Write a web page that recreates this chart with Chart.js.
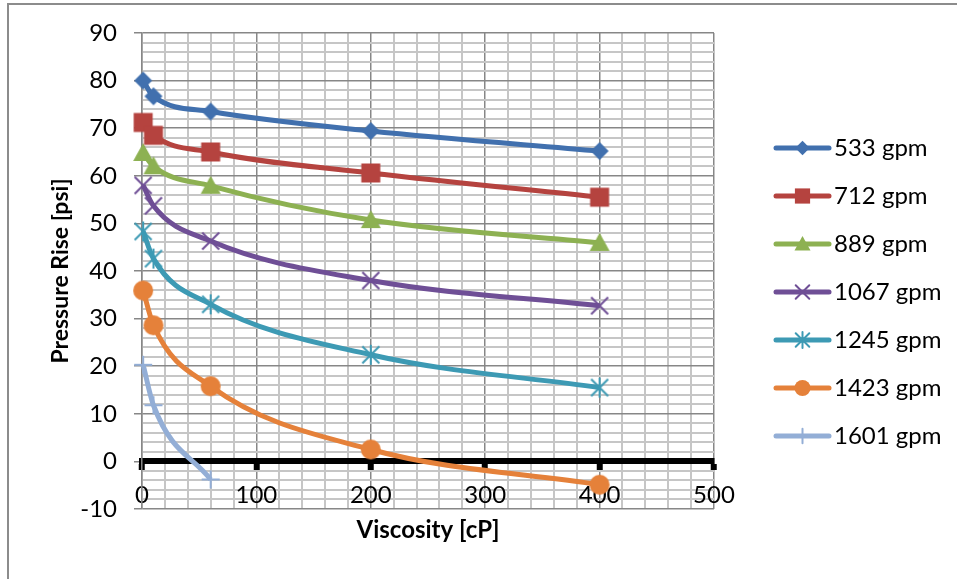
<!DOCTYPE html>
<html>
<head>
<meta charset="utf-8">
<script src="https://cdn.jsdelivr.net/npm/chart.js@4.4.1/dist/chart.umd.min.js"></script>
<style>
  html, body { margin: 0; padding: 0; background: #fff; }
  #wrap { position: relative; width: 957px; height: 579px; overflow: hidden; }
  #frame { position: absolute; left: 7px; top: 3px; width: 1000px; height: 700px; border-top: 2px solid #8c8c8c; border-left: 2px solid #8c8c8c; }
  canvas { position: absolute; left: 0; top: 0; }
</style>
</head>
<body>
<div id="wrap">
  <div id="frame"></div>
  <canvas id="chart" width="957" height="579"></canvas>
</div>
<script>
// viscosity in cP, pressure rise in psi
const viscosity = [1, 10, 60, 200, 400];
const rise533 = [80, 76.7, 73.5, 69.4, 65.2];
const rise712 = [71.2, 68.5, 65, 60.6, 55.5];
const rise889 = [64.8, 62, 57.9, 50.7, 45.9];
const rise1067 = [58, 53.7, 46.3, 38, 32.7];
const rise1245 = [48.3, 42.6, 33, 22.4, 15.5];
const rise1423 = [35.9, 28.6, 15.8, 2.5, -4.9];
const rise1601 = [20.3, 11.8, -3.8];

const seriesNames = ['533 gpm', '712 gpm', '889 gpm', '1067 gpm', '1245 gpm', '1423 gpm', '1601 gpm'];
const seriesValues = [rise533, rise712, rise889, rise1067, rise1245, rise1423, rise1601];
const seriesColors = ['#4170ae', '#b5433f', '#8db152', '#6f4f96', '#3d9ab4', '#e5813a', '#93aed6'];
const markers = ['diamond', 'square', 'triangle', 'x', 'star', 'circle', 'plus'];

Chart.defaults.font.family = 'Lato, "Open Sans", sans-serif';
Chart.defaults.color = '#000';

function drawMarker(ctx, style, cx, cy, color, s) {
    ctx.fillStyle = color;
    ctx.strokeStyle = color;
    ctx.lineWidth = 2;
    ctx.beginPath();
    if (style === 'diamond') {
        ctx.moveTo(cx, cy - 9 * s);
        ctx.lineTo(cx + 9 * s, cy);
        ctx.lineTo(cx, cy + 9 * s);
        ctx.lineTo(cx - 9 * s, cy);
        ctx.closePath();
        ctx.fill();
    } else if (style === 'square') {
        ctx.rect(cx - 9.5 * s, cy - 9.5 * s, 19 * s, 19 * s);
        ctx.fill();
    } else if (style === 'triangle') {
        ctx.moveTo(cx, cy - 10 * s);
        ctx.lineTo(cx + 10 * s, cy + 8 * s);
        ctx.lineTo(cx - 10 * s, cy + 8 * s);
        ctx.closePath();
        ctx.fill();
    } else if (style === 'circle') {
        ctx.arc(cx, cy, 10 * s, 0, Math.PI * 2);
        ctx.fill();
    } else {
        const d = 8.5 * s;
        if (style === 'x' || style === 'star') {
            ctx.moveTo(cx - d, cy - d);
            ctx.lineTo(cx + d, cy + d);
            ctx.moveTo(cx + d, cy - d);
            ctx.lineTo(cx - d, cy + d);
        }
        if (style === 'star') {
            ctx.moveTo(cx, cy - 10 * s);
            ctx.lineTo(cx, cy + 10 * s);
        }
        if (style === 'plus') {
            ctx.moveTo(cx - 9 * s, cy);
            ctx.lineTo(cx + 9 * s, cy);
            ctx.moveTo(cx, cy - 9 * s);
            ctx.lineTo(cx, cy + 9 * s);
        }
        ctx.stroke();
    }
}

// marker images for the points
const pointImages = markers.map((m, i) => {
    const c = document.createElement('canvas');
    c.width = 30;
    c.height = 30;
    drawMarker(c.getContext('2d'), m, 15, 15, seriesColors[i], 1);
    return c;
});

// legend icons: line with marker, drawn in the right part of the image
const legendIcons = markers.map((m, i) => {
    const c = document.createElement('canvas');
    c.width = 104;
    c.height = 24;
    const ctx = c.getContext('2d');
    ctx.strokeStyle = seriesColors[i];
    ctx.lineWidth = 5;
    ctx.lineCap = 'round';
    ctx.beginPath();
    ctx.moveTo(48, 12);
    ctx.lineTo(101, 12);
    ctx.stroke();
    drawMarker(ctx, m, 74.5, 12, seriesColors[i], 0.8);
    return c;
});

const isMajor = (c, step) => c.tick && Math.abs(c.tick.value % step) < 1e-6;

const datasets = seriesNames.map((name, i) => ({
    label: name,
    data: seriesValues[i].map((v, j) => ({ x: viscosity[j], y: v })),
    borderColor: seriesColors[i],
    backgroundColor: seriesColors[i],
    borderWidth: 5,
    cubicInterpolationMode: 'monotone',
    pointStyle: pointImages[i],
    pointRadius: 10,
    clip: false
}));

new Chart(document.getElementById('chart'), {
    type: 'line',
    data: { datasets: datasets },
    options: {
        responsive: false,
        animation: false,
        layout: { padding: { left: 8, top: 33, right: 10, bottom: 70 } },
        scales: {
            x: {
                type: 'linear',
                min: 0,
                max: 500,
                position: { y: 0 },
                ticks: {
                    stepSize: 20,
                    autoSkip: false,
                    maxRotation: 0,
                    padding: 13,
                    font: { size: 24 },
                    callback: v => v % 100 === 0 ? v : ''
                },
                grid: {
                    color: c => isMajor(c, 100) ? '#878787' : '#c6c6c6',
                    lineWidth: c => isMajor(c, 100) ? 1.5 : 2,
                    tickLength: 6,
                    tickWidth: 6,
                    tickColor: c => isMajor(c, 100) ? '#000' : 'rgba(0,0,0,0)'
                },
                border: { color: '#000', width: 6 },
                title: {
                    display: true,
                    text: 'Viscosity [cP]',
                    font: { size: 24, weight: 'bold' },
                    padding: 0
                },
                afterFit: scale => { scale.height = 83; }
            },
            y: {
                type: 'linear',
                min: -10,
                max: 90,
                ticks: {
                    stepSize: 2,
                    autoSkip: false,
                    padding: 17,
                    font: { size: 24 },
                    callback: v => Math.abs(v % 10) < 1e-6 ? v : ''
                },
                grid: {
                    color: c => isMajor(c, 10) ? '#878787' : '#c6c6c6',
                    lineWidth: c => isMajor(c, 10) ? 1.5 : 2,
                    tickLength: 8,
                    tickColor: c => isMajor(c, 10) ? '#878787' : 'rgba(0,0,0,0)'
                },
                border: { color: '#878787', width: 1.5 },
                title: {
                    display: true,
                    text: 'Pressure Rise [psi]',
                    font: { size: 23, weight: 'bold' },
                    padding: { top: 39, bottom: 0 }
                },
                afterFit: scale => { scale.width = 134; }
            }
        },
        plugins: {
            legend: {
                position: 'right',
                maxWidth: 233,
                title: { display: true, text: '', font: { size: 12, lineHeight: 1 }, padding: { top: 0, bottom: 30 } },
                labels: {
                    usePointStyle: true,
                    pointStyleWidth: 84,
                    padding: 24,
                    font: { size: 24 },
                    generateLabels: chart => Chart.defaults.plugins.legend.labels.generateLabels(chart)
                        .map(item => Object.assign(item, { pointStyle: legendIcons[item.datasetIndex] }))
                }
            },
            tooltip: { enabled: false }
        }
    }
});
</script>
</body>
</html>
